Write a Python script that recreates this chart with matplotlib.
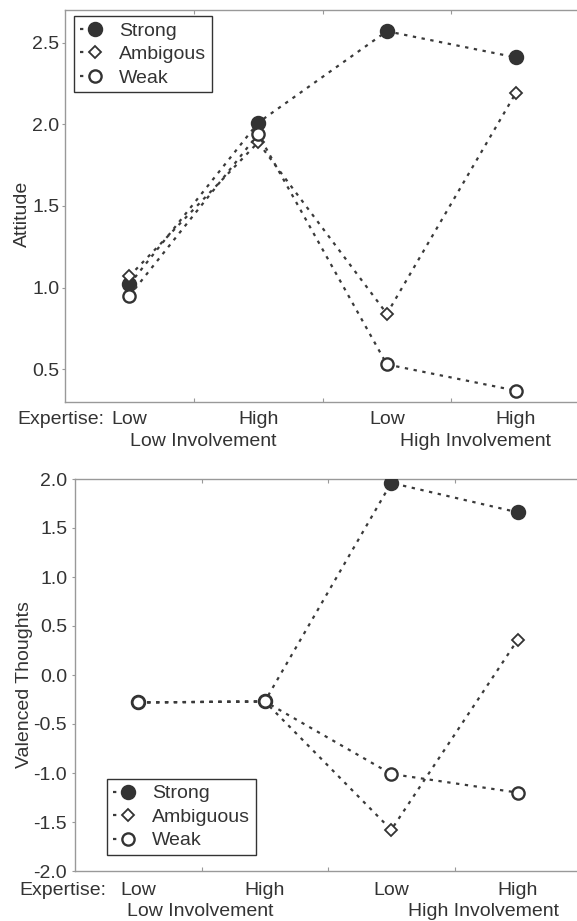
import matplotlib
matplotlib.use("Agg")
import matplotlib.pyplot as plt
from matplotlib.legend_handler import HandlerLine2D
from matplotlib.transforms import blended_transform_factory
import numpy as np

plt.rcParams['font.family'] = ['Liberation Sans', 'DejaVu Sans']

# ---- data ----
positions = [0, 1, 2, 3]
expertise_labels = ["Low", "High", "Low", "High"]
involvement_labels = ["Low Involvement", "High Involvement"]
series_names = ["Strong", "Ambigous", "Weak"]
series_names_bottom = ["Strong", "Ambiguous", "Weak"]

attitude_strong = [1.02, 2.01, 2.57, 2.41]
attitude_ambiguous = [1.07, 1.89, 0.84, 2.19]
attitude_weak = [0.95, 1.94, 0.53, 0.37]

thoughts_strong = [-0.28, -0.27, 1.96, 1.66]
thoughts_ambiguous = [-0.28, -0.27, -1.58, 0.36]
thoughts_weak = [-0.28, -0.27, -1.01, -1.20]

top_yticks = [0.5, 1.0, 1.5, 2.0, 2.5]
bottom_yticks = [-2.0, -1.5, -1.0, -0.5, 0.0, 0.5, 1.0, 1.5, 2.0]

# ---- style ----
W, H = 577, 921
TXT = '#333333'
SPINE = '#999999'
LINE = '#3a3a3a'
FS = 14
ls = (0, (1.5, 2.5))

fig = plt.figure(figsize=(W / 100, H / 100), dpi=100)


def px_axes(l, t, r, b):
    return fig.add_axes([l / W, 1 - b / H, (r - l) / W, (b - t) / H])


class RightMarkerHandler(HandlerLine2D):
    def create_artists(self, legend, orig_handle, xdescent, ydescent,
                       width, height, fontsize, trans):
        artists = super().create_artists(legend, orig_handle, xdescent, ydescent,
                                         width, height, fontsize, trans)
        x0 = -xdescent
        xm = x0 + width * 0.52
        for a in artists:
            xd = np.asarray(a.get_xdata(), dtype=float)
            yd = np.asarray(a.get_ydata(), dtype=float)
            n = len(xd)
            if n == 3:
                a.set_data([x0, xm, xm], yd)
            elif n == 2:
                a.set_data([x0, xm], yd)
            elif n == 1:
                a.set_data([xm], yd)
        return artists


def draw_panel(ax, ys, names, ylim, yticks, pad):
    styles = [
        dict(marker='o', ms=9.8, mfc='#333333', mec='#333333', mew=1.3),
        dict(marker='D', ms=6.4, mfc='white', mec='#333333', mew=1.3),
        dict(marker='o', ms=8.8, mfc='white', mec='#333333', mew=1.7),
    ]
    handles = []
    for y, name, st in zip(ys, names, styles):
        h, = ax.plot(positions, y, color=LINE, lw=1.6, linestyle=ls,
                     label=name, zorder=3, **st)
        handles.append(h)
    ax.set_xlim(-0.5, 3.5)
    ax.set_ylim(*ylim)
    ax.set_yticks(yticks)
    ax.set_yticklabels([f"{v:.1f}" for v in yticks])
    ax.set_xticks([0.5, 1.5, 2.5])
    ax.set_xticklabels([])
    ax.tick_params(axis='x', which='both', direction='in', length=3,
                   color=SPINE, top=True, bottom=True)
    ax.tick_params(axis='y', direction='out', length=2, color=SPINE,
                   labelsize=FS, labelcolor=TXT, pad=pad)
    for s in ['left', 'top', 'bottom']:
        ax.spines[s].set_color(SPINE)
        ax.spines[s].set_linewidth(1.0)
    ax.spines['right'].set_visible(False)
    return handles


def fig_text(x, y, s, **kw):
    fig.text(x / W, 1 - y / H, s, fontsize=FS, color=TXT, **kw)


def category_labels(ax, y_px):
    tr = blended_transform_factory(ax.transData, fig.transFigure)
    for x, s in zip(positions, expertise_labels):
        ax.text(x, 1 - y_px / H, s, transform=tr, fontsize=FS, color=TXT,
                ha='center', va='center', clip_on=False)


def make_legend(ax, handles, anchor):
    leg = ax.legend(handles=handles, loc='upper left', bbox_to_anchor=anchor,
                    borderaxespad=0, fontsize=FS, frameon=True, fancybox=False,
                    edgecolor='#333333', framealpha=1, handlelength=1.5,
                    handletextpad=0.5, labelspacing=0.3, borderpad=0.3,
                    handler_map={h: RightMarkerHandler(numpoints=1) for h in handles})
    leg.get_frame().set_linewidth(1.0)
    for t in leg.get_texts():
        t.set_color(TXT)
    return leg


# ---- top panel ----
ax1 = px_axes(65, 10, 580, 402)
h1 = draw_panel(ax1, [attitude_strong, attitude_ambiguous, attitude_weak],
                series_names, (0.3, 2.7), top_yticks, 2.2)
make_legend(ax1, h1, (0.0175, 0.984))

fig_text(22, 214, "Attitude", rotation=90, ha='center', va='center')
fig_text(17, 419, "Expertise:", ha='left', va='center')
category_labels(ax1, 419)
for x, s in zip([203, 476], involvement_labels):
    fig_text(x, 441, s, ha='center', va='center')

# ---- bottom panel ----
ax2 = px_axes(75, 479, 581, 871)
h2 = draw_panel(ax2, [thoughts_strong, thoughts_ambiguous, thoughts_weak],
                series_names_bottom, (-2.0, 2.0), bottom_yticks, 3.6)
make_legend(ax2, h2, (0.0632, 0.2347))

fig_text(25, 685, "Valenced Thoughts", rotation=90, ha='center', va='center')
fig_text(19, 890, "Expertise:", ha='left', va='center')
category_labels(ax2, 890)
for x, s in zip([200, 483], involvement_labels):
    fig_text(x, 911, s, ha='center', va='center')

fig.savefig("out.png", dpi=100)
